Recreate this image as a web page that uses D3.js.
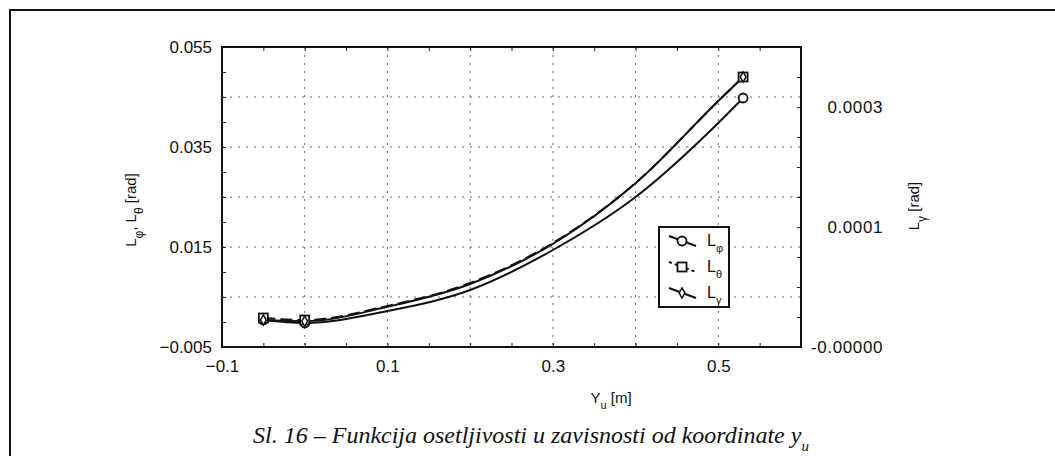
<!DOCTYPE html>
<html>
<head>
<meta charset="utf-8">
<script src="https://cdn.jsdelivr.net/npm/d3@7"></script>
<style>
  body { margin: 0; background: #fff; }
  text { font-family: "Liberation Sans", Arial, sans-serif; fill: #111; }
</style>
</head>
<body>
<svg width="1055" height="456"></svg>
<script>
// Values (Y_u in m, sensitivities in rad)
var yuValues = [-0.05, 0, 0.1, 0.2, 0.3, 0.4, 0.5, 0.53];
var lPhi = [0.0004, -0.0002, 0.0022, 0.0064, 0.0144, 0.025, 0.0398, 0.0448];
var lTheta = [0.0008, 0.0004, 0.0032, 0.0078, 0.0158, 0.0278, 0.0442, 0.049];
var lGamma = [-0.000055, -0.000057, -0.000033, 0.000005, 0.000072, 0.000173, 0.00031, 0.00035];
var markerYu = [-0.05, 0, 0.53];

// Tick labels
var xTickLabels = [-0.1, 0.1, 0.3, 0.5];
var leftTickLabels = [-0.005, 0.015, 0.035, 0.055];
var rightTicks = [-0.0001, 0.0001, 0.0003];
var rightTickLabels = ['-0.00000', '0.0001', '0.0003'];

var svg = d3.select('svg');
var plot = {left: 222, right: 801, top: 47, bottom: 347};

// Outer frame (only top and left edges fall inside the window)
svg.append('rect')
  .attr('x', 10).attr('y', 10).attr('width', 1100).attr('height', 500)
  .attr('fill', 'none').attr('stroke', '#111').attr('stroke-width', 2);

// Scales
var x = d3.scaleLinear().domain([-0.1, 0.6]).range([plot.left, plot.right]);
var yL = d3.scaleLinear().domain([-0.005, 0.055]).range([plot.bottom, plot.top]);
var yR = d3.scaleLinear().domain([-0.0001, 0.0004]).range([plot.bottom, plot.top]);

// Dotted grid
var grid = svg.append('g').attr('stroke', '#666').attr('stroke-width', 1)
  .attr('stroke-dasharray', '2,6');
grid.selectAll('.gx').data(d3.range(1, 7).map(i => -0.1 + i * 0.1)).enter()
  .append('line')
  .attr('x1', d => x(d)).attr('x2', d => x(d))
  .attr('y1', plot.top).attr('y2', plot.bottom);
grid.selectAll('.gy').data(d3.range(1, 6).map(i => -0.005 + i * 0.01)).enter()
  .append('line')
  .attr('y1', d => yL(d)).attr('y2', d => yL(d))
  .attr('x1', plot.left).attr('x2', plot.right);

// Minor inward ticks on all four sides
function minor(axis, g, vals) {
  g.call(axis.tickValues(vals).tickSize(-4).tickFormat(''));
  g.select('.domain').remove();
  g.selectAll('line').attr('stroke', '#222');
}
var xMinor = d3.range(0, 15).map(i => -0.1 + i * 0.05);
var yMinor = d3.range(0, 13).map(i => -0.005 + i * 0.005);
var rMinor = d3.range(0, 11).map(i => -0.0001 + i * 0.00005);
minor(d3.axisBottom(x), svg.append('g').attr('transform', 'translate(0,' + plot.bottom + ')'), xMinor);
minor(d3.axisTop(x), svg.append('g').attr('transform', 'translate(0,' + plot.top + ')'), xMinor);
minor(d3.axisLeft(yL), svg.append('g').attr('transform', 'translate(' + plot.left + ',0)'), yMinor);
minor(d3.axisRight(yR), svg.append('g').attr('transform', 'translate(' + plot.right + ',0)'), rMinor);

// Plot frame
svg.append('rect')
  .attr('x', plot.left).attr('y', plot.top)
  .attr('width', plot.right - plot.left).attr('height', plot.bottom - plot.top)
  .attr('fill', 'none').attr('stroke', '#111').attr('stroke-width', 2);

// Tick labels
var xAx = svg.append('g').attr('transform', 'translate(0,' + plot.bottom + ')')
  .call(d3.axisBottom(x).tickValues(xTickLabels).tickSize(0).tickPadding(13).tickFormat(d3.format('')));
var lAx = svg.append('g').attr('transform', 'translate(' + plot.left + ',0)')
  .call(d3.axisLeft(yL).tickValues(leftTickLabels).tickSize(0).tickPadding(10).tickFormat(d3.format('')));
var rAx = svg.append('g').attr('transform', 'translate(' + plot.right + ',0)')
  .call(d3.axisRight(yR).tickValues(rightTicks).tickSize(0).tickFormat((d, i) => rightTickLabels[i]));
rAx.selectAll('text').attr('x', 82).attr('text-anchor', 'end').style('letter-spacing', '0.6px');
[xAx, lAx, rAx].forEach(g => {
  g.select('.domain').remove();
  g.selectAll('text').style('font-size', '17px').style('font-family', '"Liberation Sans", Arial, sans-serif').attr('fill', '#111');
});

// Axis titles
var lt = svg.append('text').attr('transform', 'translate(136,210) rotate(-90)')
  .attr('text-anchor', 'middle').style('font-size', '15px');
lt.append('tspan').text('L');
lt.append('tspan').attr('baseline-shift', 'sub').style('font-size', '12px').text('φ');
lt.append('tspan').text(', L');
lt.append('tspan').attr('baseline-shift', 'sub').style('font-size', '12px').text('θ');
lt.append('tspan').text(' [rad]');

var rt = svg.append('text').attr('transform', 'translate(919,206) rotate(-90)')
  .attr('text-anchor', 'middle').style('font-size', '15px');
rt.append('tspan').text('L');
rt.append('tspan').attr('baseline-shift', 'sub').style('font-size', '12px').text('γ');
rt.append('tspan').text(' [rad]');

var xt = svg.append('text').attr('x', 611).attr('y', 403)
  .attr('text-anchor', 'middle').style('font-size', '15px');
xt.append('tspan').text('Y');
xt.append('tspan').attr('baseline-shift', 'sub').style('font-size', '11px').text('u');
xt.append('tspan').text(' [m]');

// Series
var series = [
  {name: 'φ', vals: lPhi, y: yL, dash: null, marker: 'circle'},
  {name: 'θ', vals: lTheta, y: yL, dash: '12,5', marker: 'square'},
  {name: 'γ', vals: lGamma, y: yR, dash: null, marker: 'diamond'}
];

function drawMarker(g, type, cx, cy) {
  if (type === 'circle') {
    g.append('circle').attr('cx', cx).attr('cy', cy).attr('r', 4.5)
      .attr('fill', '#fff').attr('stroke', '#111').attr('stroke-width', 1.8);
  } else if (type === 'square') {
    g.append('rect').attr('x', cx - 4.5).attr('y', cy - 4.5).attr('width', 9).attr('height', 9)
      .attr('fill', '#fff').attr('stroke', '#111').attr('stroke-width', 1.8);
  } else {
    g.append('path').attr('d', d3.symbol().type(d3.symbolDiamond).size(30)())
      .attr('transform', 'translate(' + cx + ',' + cy + ')')
      .attr('fill', '#fff').attr('stroke', '#111').attr('stroke-width', 1.5);
  }
}

series.forEach(s => {
  var pts = yuValues.map((v, i) => [v, s.vals[i]]);
  var line = d3.line().x(d => x(d[0])).y(d => s.y(d[1])).curve(d3.curveMonotoneX);
  svg.append('path').datum(pts)
    .attr('d', line)
    .attr('fill', 'none').attr('stroke', '#111').attr('stroke-width', 2)
    .attr('stroke-dasharray', s.dash);
});
series.forEach(s => {
  var g = svg.append('g');
  yuValues.forEach((v, i) => {
    if (markerYu.indexOf(v) >= 0) drawMarker(g, s.marker, x(v), s.y(s.vals[i]));
  });
});

// Legend
var leg = svg.append('g');
leg.append('rect').attr('x', 659).attr('y', 227).attr('width', 70).attr('height', 80)
  .attr('fill', '#fff').attr('stroke', '#111').attr('stroke-width', 2);
series.forEach((s, i) => {
  var cy = 241 + i * 26;
  leg.append('line').attr('x1', 669).attr('y1', cy - 5).attr('x2', 696).attr('y2', cy + 5)
    .attr('stroke', '#111').attr('stroke-width', 2).attr('stroke-dasharray', s.dash ? '3,3' : null);
  drawMarker(leg, s.marker, 682, cy);
  var t = leg.append('text').attr('x', 707).attr('y', cy + 5).style('font-size', '16px');
  t.append('tspan').text('L');
  t.append('tspan').attr('baseline-shift', 'sub').style('font-size', '11px').text(s.name);
});

// Caption
var cap = svg.append('text').attr('x', 531).attr('y', 443).attr('text-anchor', 'middle')
  .style('font-family', '"Liberation Serif", "Times New Roman", serif')
  .style('font-style', 'italic').style('font-size', '24px');
cap.append('tspan').text('Sl. 16 – Funkcija osetljivosti u zavisnosti od koordinate y');
cap.append('tspan').attr('baseline-shift', 'sub').style('font-size', '15px').text('u');
</script>
</body>
</html>
